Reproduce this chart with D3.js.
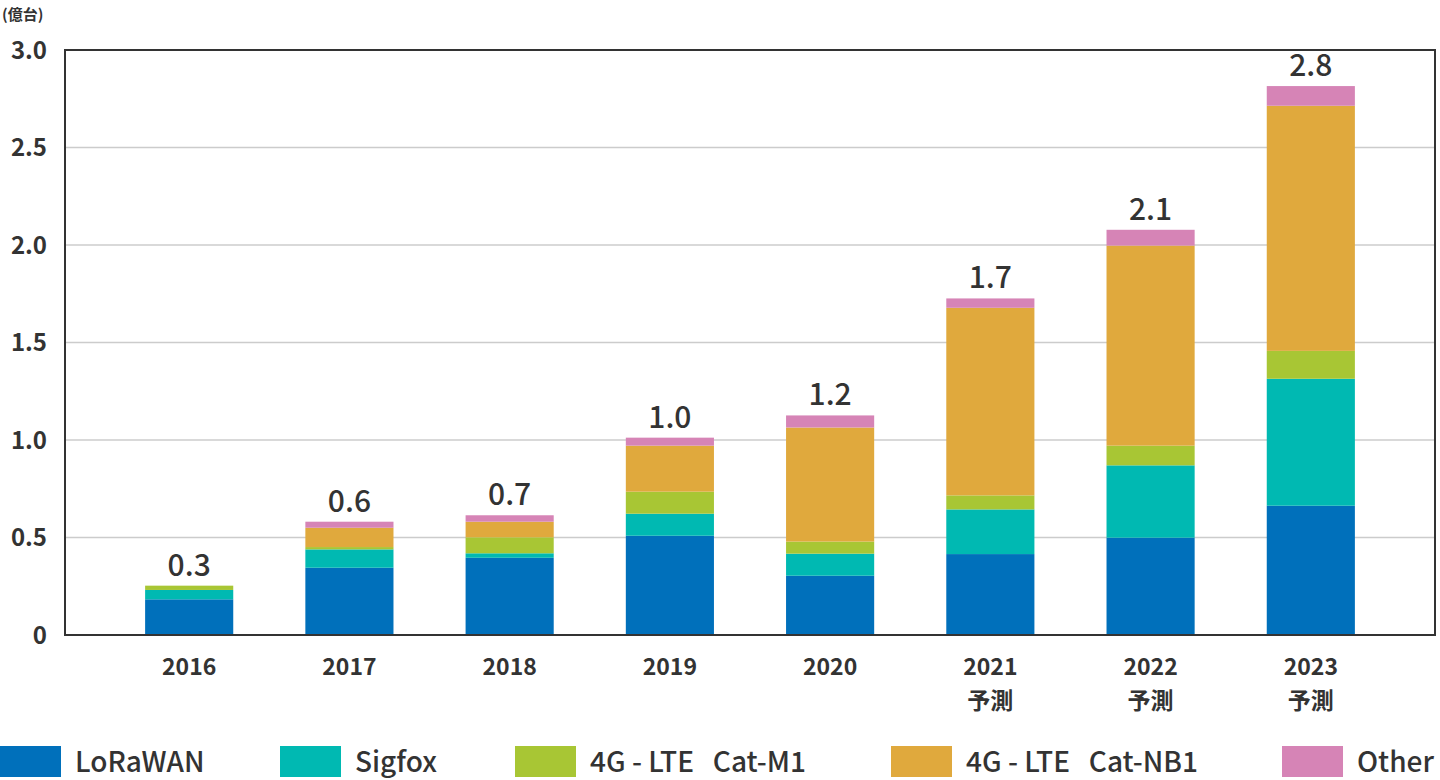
<!DOCTYPE html>
<html>
<head>
<meta charset="utf-8">
<script src="https://cdn.jsdelivr.net/npm/d3@7/dist/d3.min.js"></script>
<style>
  html, body { margin: 0; padding: 0; background: #fff; }
  svg text { font-family: "Noto Sans CJK JP", "Noto Sans", sans-serif; fill: #333; }
</style>
</head>
<body>
<div id="chart"></div>
<script>
// データ（億台）
var years = ["2016", "2017", "2018", "2019", "2020", "2021", "2022", "2023"];
var subLabels = ["", "", "", "", "", "予測", "予測", "予測"];
var seriesNames = ["LoRaWAN", "Sigfox", "4G - LTE   Cat-M1", "4G - LTE   Cat-NB1", "Other"];
var seriesColors = ["#0070bb", "#00b9b2", "#a8c634", "#e0a93d", "#d684b6"];

var lorawan = [0.183, 0.345, 0.396, 0.509, 0.304, 0.415, 0.499, 0.663];
var sigfox  = [0.048, 0.094, 0.023, 0.113, 0.113, 0.229, 0.371, 0.651];
var catM1   = [0.022, 0.012, 0.082, 0.113, 0.062, 0.072, 0.101, 0.143];
var catNB1  = [0.000, 0.099, 0.080, 0.236, 0.585, 0.962, 1.026, 1.257];
var other   = [0.000, 0.031, 0.033, 0.041, 0.062, 0.048, 0.081, 0.101];

var totalLabels = ["0.3", "0.6", "0.7", "1.0", "1.2", "1.7", "2.1", "2.8"];
var yTicks = [0, 0.5, 1.0, 1.5, 2.0, 2.5, 3.0];
var unitLabel = "(億台)";

var W = 1440, H = 780;
var margin = {left: 65, right: 1435, top: 50, bottom: 635};

var table = years.map(function(y, i) {
  var row = { year: y, sub: subLabels[i], total: totalLabels[i] };
  row[seriesNames[0]] = lorawan[i];
  row[seriesNames[1]] = sigfox[i];
  row[seriesNames[2]] = catM1[i];
  row[seriesNames[3]] = catNB1[i];
  row[seriesNames[4]] = other[i];
  return row;
});

var stack = d3.stack().keys(seriesNames)(table);

var x = d3.scaleBand().domain(years).range([margin.left, margin.right]).paddingInner(0.45).paddingOuter(0.5);
var y = d3.scaleLinear().domain([0, 3]).range([margin.bottom, margin.top]);
var color = d3.scaleOrdinal().domain(seriesNames).range(seriesColors);

var svg = d3.select("#chart").append("svg").attr("width", W).attr("height", H);

// グリッド線
svg.append("g").selectAll("line").data(yTicks.filter(function(t) { return t > 0 && t < 3; }))
  .enter().append("line")
    .attr("x1", margin.left).attr("x2", margin.right)
    .attr("y1", function(d) { return y(d); }).attr("y2", function(d) { return y(d); })
    .attr("stroke", "#cccccc").attr("stroke-width", 1.5);

// 棒
var layer = svg.append("g").selectAll("g").data(stack).enter()
  .append("g").attr("fill", function(d) { return color(d.key); });

layer.selectAll("rect").data(function(d) { return d; }).enter()
  .append("rect")
    .attr("x", function(d) { return x(d.data.year); })
    .attr("width", x.bandwidth())
    .attr("y", function(d) { return y(d[1]); })
    .attr("height", function(d) { return y(d[0]) - y(d[1]); });

// 枠
svg.append("rect")
  .attr("x", margin.left).attr("y", margin.top)
  .attr("width", margin.right - margin.left).attr("height", margin.bottom - margin.top)
  .attr("fill", "none").attr("stroke", "#333").attr("stroke-width", 2);

// 合計ラベル
var topLayer = stack[stack.length - 1];
svg.append("g").selectAll("text").data(topLayer).enter()
  .append("text")
    .attr("x", function(d) { return x(d.data.year) + x.bandwidth() / 2; })
    .attr("y", function(d) { return y(d[1]) - 10; })
    .attr("text-anchor", "middle")
    .style("font-size", "30px").style("font-weight", 500)
    .text(function(d) { return d.data.total; });

// Y軸
svg.append("g").selectAll("text").data(yTicks).enter()
  .append("text")
    .attr("x", 47)
    .attr("y", function(d) { return y(d); })
    .attr("dy", "0.36em")
    .attr("text-anchor", "end")
    .style("font-size", "24px").style("font-weight", 700)
    .text(function(d) { return d === 0 ? "0" : d.toFixed(1); });

svg.append("text")
  .attr("x", 2).attr("y", 20)
  .style("font-size", "15px").style("font-weight", 700)
  .text(unitLabel);

// X軸
var xl = svg.append("g").selectAll("g").data(table).enter().append("g");
xl.append("text")
  .attr("x", function(d) { return x(d.year) + x.bandwidth() / 2; })
  .attr("y", 675)
  .attr("text-anchor", "middle")
  .style("font-size", "23px").style("font-weight", 700)
  .text(function(d) { return d.year; });
xl.filter(function(d) { return d.sub; }).append("text")
  .attr("x", function(d) { return x(d.year) + x.bandwidth() / 2; })
  .attr("y", 709)
  .attr("text-anchor", "middle")
  .style("font-size", "23px").style("font-weight", 700)
  .text(function(d) { return d.sub; });

// 凡例
var legendX = [0, 280, 515, 891, 1282];
var lg = svg.append("g").selectAll("g").data(seriesNames).enter()
  .append("g").attr("transform", function(d, i) { return "translate(" + [legendX[i], 746] + ")"; });
lg.append("rect").attr("width", 61).attr("height", 31)
  .attr("fill", function(d) { return color(d); });
lg.append("text")
  .attr("x", 75).attr("y", 16).attr("dy", "0.36em")
  .style("font-size", "28px").style("font-weight", 500)
  .style("white-space", "pre").attr("xml:space", "preserve")
  .text(function(d) { return d; });
</script>
</body>
</html>
